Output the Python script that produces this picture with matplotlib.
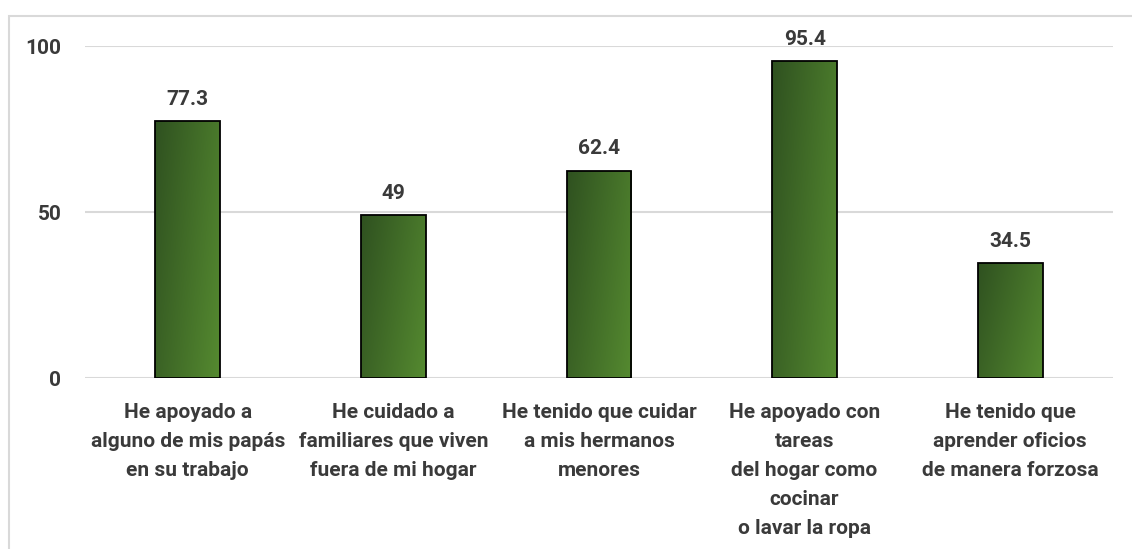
import matplotlib
matplotlib.use("Agg")
import matplotlib.pyplot as plt
import numpy as np
from matplotlib.colors import LinearSegmentedColormap
from matplotlib.patches import Rectangle

categories = [
    "He apoyado a\nalguno de mis papás\nen su trabajo",
    "He cuidado a\nfamiliares que viven\nfuera de mi hogar",
    "He tenido que cuidar\na mis hermanos\nmenores",
    "He apoyado con\ntareas\ndel hogar como\ncocinar\no lavar la ropa",
    "He tenido que\naprender oficios\nde manera forzosa",
]
values = [77.3, 49, 62.4, 95.4, 34.5]
value_labels = ["77.3", "49", "62.4", "95.4", "34.5"]
yticks = [0, 50, 100]

plt.rcParams['font.family'] = ['Roboto', 'DejaVu Sans']
txt = '#3a3a3a'
FS = 15

W, H = 1132, 549
fig = plt.figure(figsize=(W/100, H/100), dpi=100)
fig.patch.set_facecolor('white')

# outer chart border
fig.add_artist(Rectangle((9/W, -0.1), 1.2, 1 - 16/H + 0.1, transform=fig.transFigure,
                         fill=False, edgecolor='#d9d9d9', linewidth=1.5))

ax = fig.add_axes([85/W, 1 - 378/H, (1113-85)/W, (378-46)/H])
x = np.arange(len(values))
bars = ax.bar(x, values, width=0.316, color='none', edgecolor='black', linewidth=1.3, zorder=3)

cmap = LinearSegmentedColormap.from_list('g', ['#2f5120', '#558a30'])
gy, gx = np.mgrid[0:1:200j, 0:1:200j]
grad = 0.7 * gx + 0.3 * gy
for b in bars:
    x0, w, h = b.get_x(), b.get_width(), b.get_height()
    im = ax.imshow(grad, cmap=cmap, extent=[x0, x0 + w, 0, h], origin='upper',
                   aspect='auto', zorder=2, interpolation='bilinear')
    im.set_clip_path(b)

for xi, v, lab in zip(x, values, value_labels):
    ax.annotate(lab, (xi, v), xytext=(0, 9), textcoords='offset points', ha='center',
                va='bottom', fontsize=FS, fontweight='bold', color=txt, annotation_clip=False)

ax.set_xlim(-0.5, len(values) - 0.5)
ax.set_ylim(0, 100)
ax.set_yticks(yticks)
ax.set_yticklabels([str(t) for t in yticks], fontsize=FS, fontweight='bold', color=txt)
ax.set_xticks(x)
ax.set_xticklabels(categories, fontsize=FS, fontweight='bold', color=txt, linespacing=1.67)
ax.tick_params(axis='both', length=0)
ax.tick_params(axis='y', pad=17)
ax.tick_params(axis='x', pad=18)
ax.grid(axis='y', color='#d9d9d9', linewidth=1.5, zorder=0)
ax.set_axisbelow(True)
for s in ax.spines.values():
    s.set_visible(False)

fig.savefig('out.png', dpi=100, facecolor='white')
